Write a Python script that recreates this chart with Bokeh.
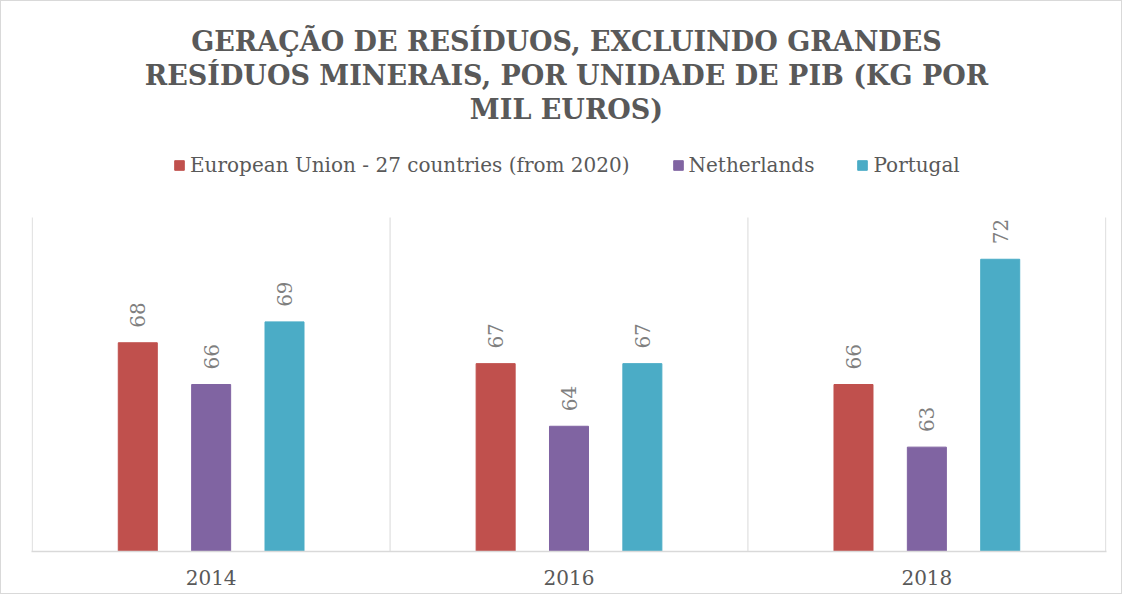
from bokeh.plotting import figure
from bokeh.models import (ColumnDataSource, Range1d, FixedTicker, Label, Legend, LegendItem)
from bokeh.embed import file_html
from bokeh.resources import INLINE
from bokeh.core.properties import value

years = ["2014", "2016", "2018"]
series_names = ["European Union - 27 countries (from 2020)", "Netherlands", "Portugal"]
eu_values = [68, 67, 66]
nl_values = [66, 64, 63]
pt_values = [69, 67, 72]
colors = ["#C0504D", "#8064A2", "#4BACC6"]
title_lines = ["GERAÇÃO DE RESÍDUOS, EXCLUINDO GRANDES",
               "RESÍDUOS MINERAIS, POR UNIDADE DE PIB (KG POR",
               "MIL EUROS)"]

FONT = "DejaVu Serif"
GRAY = "#595959"
GRID = "#d9d9d9"

# value axis limits of the plot area (not drawn)
Y_MIN, Y_MAX = 58, 74
PLOT_AREA_PX = 334          # height of the value area in px
HEADER_PX = 216             # space above the value area (title + legend)
px_per_unit = PLOT_AREA_PX / (Y_MAX - Y_MIN)
y_top = Y_MAX + HEADER_PX / px_per_unit

p = figure(width=1122, height=594, output_backend="svg", toolbar_location=None,
           x_range=Range1d(-0.502, len(years) - 0.498), y_range=Range1d(Y_MIN, y_top),
           y_axis_location=None, min_border_left=30, min_border_right=17,
           min_border_top=0, min_border_bottom=44)
p.title = None
p.outline_line_color = None
p.background_fill_color = "white"
p.border_fill_color = "white"
p.styles = {"border": "1px solid #d9d9d9", "box-sizing": "border-box"}
p.xgrid.grid_line_color = None
p.ygrid.grid_line_color = None

# vertical separators between categories (only over the value area)
bounds = [i - 0.5 for i in range(len(years) + 1)]
p.segment(x0=bounds, y0=[Y_MIN] * len(bounds), x1=bounds, y1=[Y_MAX] * len(bounds),
          line_color=GRID, line_width=1)

offsets = [-0.205, 0.0, 0.205]
all_values = [eu_values, nl_values, pt_values]
items = []
for name, vals, col, off in zip(series_names, all_values, colors, offsets):
    src = ColumnDataSource(dict(x=[i + off for i in range(len(years))], top=vals,
                                label=[str(v) for v in vals]))
    r = p.vbar(x="x", top="top", bottom=Y_MIN, width=0.109, source=src,
               fill_color=col, line_color=col)
    p.text(x="x", y="top", text="label", source=src, angle=1.5708,
           text_align="left", text_baseline="middle", y_offset=-15,
           text_font=value(FONT), text_font_size="20px", text_color="#7f7f7f")
    items.append(LegendItem(label=name, renderers=[r]))

legend = Legend(items=items, orientation="horizontal", location=(142, 374),
                border_line_color=None, background_fill_alpha=0,
                glyph_width=12, glyph_height=12, label_standoff=5, spacing=42,
                label_text_font=FONT, label_text_font_size="20px",
                label_text_color=GRAY, margin=0, padding=0)
p.add_layout(legend, "center")

for k, line in enumerate(title_lines):
    p.add_layout(Label(x=535, y=510 - 34 * k, x_units="screen", y_units="screen",
                       text=line, text_align="center", text_baseline="middle",
                       text_font=FONT, text_font_size="27px", text_font_style="bold",
                       text_color=GRAY))

p.xaxis.ticker = FixedTicker(ticks=list(range(len(years))))
p.xaxis.major_label_overrides = {i: y for i, y in enumerate(years)}
p.xaxis.major_tick_line_color = None
p.xaxis.minor_tick_line_color = None
p.xaxis.axis_line_color = GRID
p.xaxis.axis_line_width = 1.5
p.xaxis.major_label_text_font = FONT
p.xaxis.major_label_text_font_size = "20px"
p.xaxis.major_label_text_color = GRAY
p.xaxis.major_label_standoff = 12

open("out.html", "w").write(file_html(p, INLINE))
